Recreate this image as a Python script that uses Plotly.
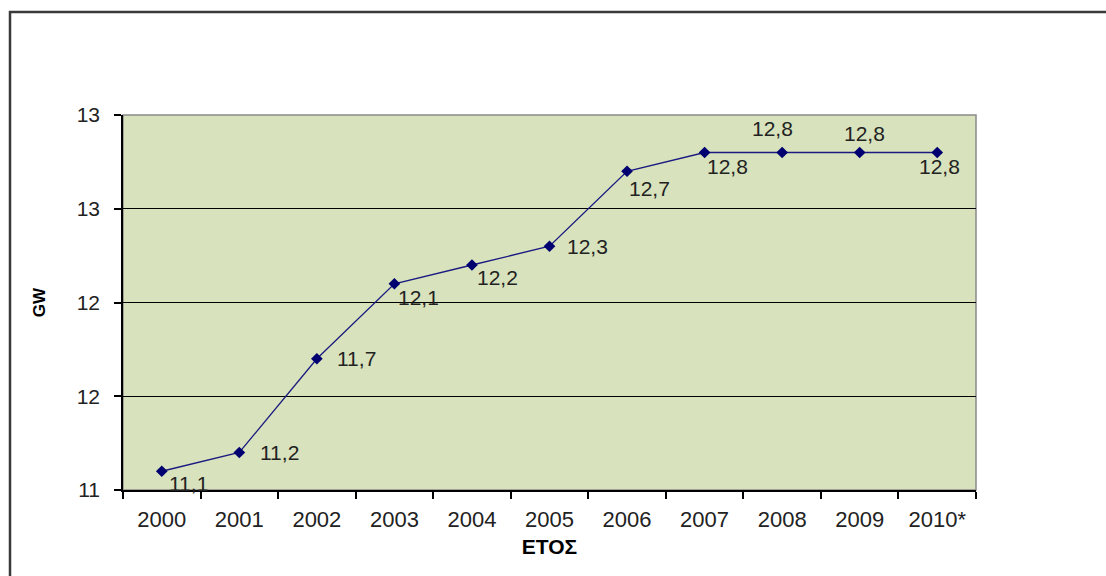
import plotly.graph_objects as go

years = ["2000", "2001", "2002", "2003", "2004", "2005", "2006", "2007", "2008", "2009", "2010*"]
capacity_gw = [11.1, 11.2, 11.7, 12.1, 12.2, 12.3, 12.7, 12.8, 12.8, 12.8, 12.8]
value_labels = ["11,1", "11,2", "11,7", "12,1", "12,2", "12,3", "12,7", "12,8", "12,8", "12,8", "12,8"]
y_tick_vals = [11, 11.5, 12, 12.5, 13]
y_tick_text = ["11", "12", "12", "13", "13"]

# label offsets (pixels, style only)
label_dx = [27, 40, 40, 24, 26, 38, 22, 23, -10, 5, 2]
label_dy = [-12, 0, 0, -14, -12, 0, -17, -14, 24, 19, -14]

FONT = "Liberation Sans, Arial, sans-serif"
L, R, T, B = 123, 130, 115, 86
W, H = 1106, 576
pw, ph = W - L - R, H - T - B

fig = go.Figure()
fig.add_trace(go.Scatter(
    x=years, y=capacity_gw, mode="lines+markers",
    line=dict(color="#1a1a80", width=1.3),
    marker=dict(symbol="diamond", size=9, color="#000070"),
    showlegend=False, hoverinfo="skip",
))

# category axis: address annotations by category index
for i, (yv, txt, dx, dy) in enumerate(zip(capacity_gw, value_labels, label_dx, label_dy)):
    fig.add_annotation(x=i, y=yv, text=txt, showarrow=False,
                       xshift=dx, yshift=dy, xanchor="center", yanchor="middle",
                       font=dict(family=FONT, size=21, color="#222222"))

shapes = [
    dict(type="rect", xref="paper", yref="paper", x0=0, x1=1, y0=0, y1=1,
         line=dict(color="#8a8a8a", width=1.5), layer="below"),
    dict(type="path", xref="paper", yref="paper",
         path=f"M {(10 - L)/pw},{(T + ph - 600)/ph} L {(10 - L)/pw},{(T + ph - 12)/ph} L {(W + 20 - L)/pw},{(T + ph - 12)/ph}",
         line=dict(color="#3a3a3a", width=2.5)),
]

fig.update_layout(
    width=W, height=H,
    margin=dict(l=L, r=R, t=T, b=B),
    paper_bgcolor="white",
    plot_bgcolor="#D8E2BC",
    shapes=shapes,
    font=dict(family=FONT, size=20, color="#222222"),
    xaxis=dict(
        type="category",
        showgrid=False, zeroline=False,
        showline=True, linecolor="black", linewidth=1.5,
        ticks="outside", tickson="boundaries", ticklen=7, tickcolor="black", tickwidth=1.5,
        tickfont=dict(family=FONT, size=22, color="#222222"),
        ticklabelstandoff=9,
        title=dict(text="<b>ΕΤΟΣ</b>", font=dict(family=FONT, size=21, color="black"), standoff=8),
        range=[-0.5, 10.5],
    ),
    yaxis=dict(
        range=[11, 13],
        tickvals=y_tick_vals, ticktext=y_tick_text,
        showgrid=True, gridcolor="black", gridwidth=1.3,
        zeroline=False,
        showline=True, linecolor="black", linewidth=1.5,
        ticks="outside", ticklen=7, tickcolor="black", tickwidth=1.5,
        tickfont=dict(family=FONT, size=21, color="#222222"),
        ticklabelstandoff=10,
        title=dict(text="<b>GW</b>", font=dict(family=FONT, size=17, color="black"), standoff=27),
    ),
)

fig.write_html("out.html")
